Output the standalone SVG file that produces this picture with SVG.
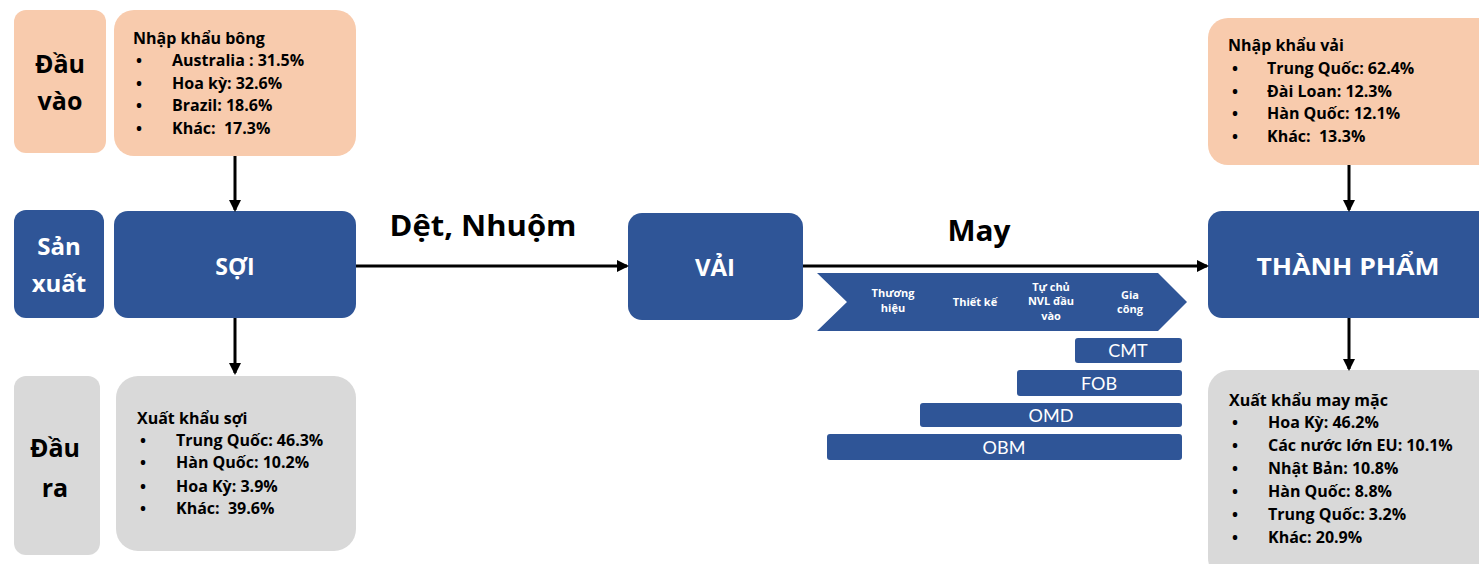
<svg xmlns="http://www.w3.org/2000/svg" width="1479" height="564" viewBox="0 0 1479 564">
<defs>
<marker id="ah" markerWidth="12" markerHeight="12" refX="10" refY="6" orient="auto" markerUnits="userSpaceOnUse">
<path d="M0,0 L12,6 L0,12 Z" fill="#000"/>
</marker>
<style>
text{font-family:"Open Sans","Noto Sans",sans-serif;font-weight:bold}
.peach{fill:#F8CBAD}
.blue{fill:#2F5597}
.grey{fill:#D9D9D9}
.big{font-size:25px;fill:#000;text-anchor:middle}
.mid{font-size:28px;fill:#000;text-anchor:middle}
.bigw{font-size:24px;fill:#fff;text-anchor:middle}
.lst{font-size:16px;fill:#000}
.chev{font-size:11px;fill:#fff;text-anchor:middle}
.bar{font-family:Lato,"Open Sans",sans-serif;font-size:18px;fill:#fff;text-anchor:middle;font-weight:normal}
.conn{stroke:#000;stroke-width:3;fill:none;marker-end:url(#ah)}
</style>
</defs>
<rect width="1479" height="564" fill="#fff"/>

<g id="dau-vao">
<rect class="peach" x="14" y="10" width="92" height="143" rx="12"/>
<text class="big" x="60" y="73">Đầu</text>
<text class="big" x="60" y="110">vào</text>
</g>
<g id="nhap-khau-bong">
<rect class="peach" x="114" y="10" width="242" height="146" rx="20"/>
<text class="lst" x="133" y="44">Nhập khẩu bông</text>
<text class="lst" x="136" y="66">•</text><text class="lst" x="172" y="66">Australia : 31.5%</text>
<text class="lst" x="136" y="89">•</text><text class="lst" x="172" y="89">Hoa kỳ: 32.6%</text>
<text class="lst" x="136" y="111">•</text><text class="lst" x="172" y="111">Brazil: 18.6%</text>
<text class="lst" x="136" y="134">•</text><text class="lst" x="172" y="134">Khác:&#160; 17.3%</text>
</g>
<g id="san-xuat">
<rect class="blue" x="14" y="210" width="90" height="108" rx="12"/>
<text class="bigw" x="59" y="255">Sản</text>
<text class="bigw" x="59" y="292">xuất</text>
</g>
<g id="soi">
<rect class="blue" x="114" y="211" width="242" height="107" rx="14"/>
<text class="bigw" x="235" y="275" style="font-size:23px">SỢI</text>
</g>
<g id="dau-ra">
<rect class="grey" x="14" y="376" width="86" height="179" rx="12"/>
<text class="big" x="55" y="457">Đầu</text>
<text class="big" x="55" y="497">ra</text>
</g>
<g id="xuat-khau-soi">
<rect class="grey" x="116" y="376" width="240" height="175" rx="22"/>
<text class="lst" x="137" y="424">Xuất khẩu sợi</text>
<text class="lst" x="140" y="446">•</text><text class="lst" x="176" y="446">Trung Quốc: 46.3%</text>
<text class="lst" x="140" y="468">•</text><text class="lst" x="176" y="468">Hàn Quốc: 10.2%</text>
<text class="lst" x="140" y="492">•</text><text class="lst" x="176" y="492">Hoa Kỳ: 3.9%</text>
<text class="lst" x="140" y="514">•</text><text class="lst" x="176" y="514">Khác:&#160; 39.6%</text>
</g>
<g id="vai">
<rect class="blue" x="628" y="213" width="175" height="107" rx="14"/>
<text class="bigw" x="715" y="276">VẢI</text>
</g>
<g id="thanh-pham">
<rect class="blue" x="1208" y="211" width="290" height="107" rx="14"/>
<text class="bigw" x="1348" y="275" textLength="183" lengthAdjust="spacingAndGlyphs">THÀNH PHẨM</text>
</g>
<g id="nhap-khau-vai">
<rect class="peach" x="1208" y="18" width="290" height="147" rx="20"/>
<text class="lst" x="1228" y="51">Nhập khẩu vải</text>
<text class="lst" x="1232" y="74">•</text><text class="lst" x="1267" y="74">Trung Quốc: 62.4%</text>
<text class="lst" x="1232" y="97">•</text><text class="lst" x="1267" y="97">Đài Loan: 12.3%</text>
<text class="lst" x="1232" y="119">•</text><text class="lst" x="1267" y="119">Hàn Quốc: 12.1%</text>
<text class="lst" x="1232" y="142">•</text><text class="lst" x="1267" y="142">Khác:&#160; 13.3%</text>
</g>
<g id="xuat-khau-may-mac">
<rect class="grey" x="1208" y="370" width="290" height="210" rx="22"/>
<text class="lst" x="1229" y="406">Xuất khẩu may mặc</text>
<text class="lst" x="1232" y="428">•</text><text class="lst" x="1268" y="428">Hoa Kỳ: 46.2%</text>
<text class="lst" x="1232" y="451">•</text><text class="lst" x="1268" y="451">Các nước lớn EU: 10.1%</text>
<text class="lst" x="1232" y="474">•</text><text class="lst" x="1268" y="474">Nhật Bản: 10.8%</text>
<text class="lst" x="1232" y="497">•</text><text class="lst" x="1268" y="497">Hàn Quốc: 8.8%</text>
<text class="lst" x="1232" y="520">•</text><text class="lst" x="1268" y="520">Trung Quốc: 3.2%</text>
<text class="lst" x="1232" y="543">•</text><text class="lst" x="1268" y="543">Khác: 20.9%</text>
</g>

<g id="chevron">
<path class="blue" d="M817,273 L1158,273 L1187,302 L1158,331 L817,331 L847,302 Z"/>
<text class="chev" x="893" y="297">Thương</text>
<text class="chev" x="893" y="312">hiệu</text>
<text class="chev" x="975" y="306">Thiết kế</text>
<text class="chev" x="1051" y="291">Tự chủ</text>
<text class="chev" x="1051" y="305">NVL đầu</text>
<text class="chev" x="1051" y="320">vào</text>
<text class="chev" x="1130" y="299">Gia</text>
<text class="chev" x="1130" y="313">công</text>
</g>
<g id="cmt">
<rect class="blue" x="1075" y="338" width="107" height="25" rx="3"/>
<text class="bar" x="1128" y="357">CMT</text>
</g>
<g id="fob">
<rect class="blue" x="1017" y="370" width="165" height="26" rx="3"/>
<text class="bar" x="1099" y="390">FOB</text>
</g>
<g id="omd">
<rect class="blue" x="920" y="403" width="262" height="24" rx="3"/>
<text class="bar" x="1051" y="422">OMD</text>
</g>
<g id="obm">
<rect class="blue" x="827" y="434" width="355" height="26" rx="3"/>
<text class="bar" x="1004" y="454">OBM</text>
</g>

<g id="connectors">
<line class="conn" x1="235" y1="156" x2="235" y2="210"/>
<line class="conn" x1="235" y1="318" x2="235" y2="373"/>
<line class="conn" x1="356" y1="266" x2="627" y2="266"/>
<line class="conn" x1="803" y1="266" x2="1207" y2="266"/>
<line class="conn" x1="1349" y1="165" x2="1349" y2="210"/>
<line class="conn" x1="1349" y1="318" x2="1349" y2="369"/>
<text class="mid" x="483" y="236" textLength="187" lengthAdjust="spacingAndGlyphs">Dệt, Nhuộm</text>
<text class="mid" x="979" y="241" textLength="63" lengthAdjust="spacingAndGlyphs">May</text>
</g>
</svg>
